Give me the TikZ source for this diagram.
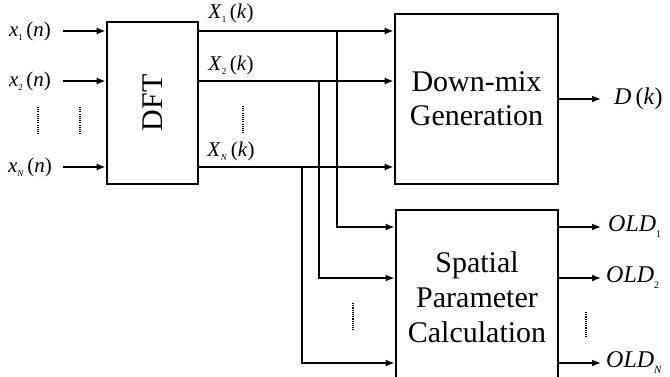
\documentclass[tikz,border=0pt]{standalone}
\usepackage{fontspec}
\setmainfont{Liberation Serif}
\usetikzlibrary{arrows.meta}
\newcommand{\sbs}[3]{\raisebox{-#2}{\fontsize{#1}{#1}\selectfont #3}}
\begin{document}
\begin{tikzpicture}[x=1pt,y=-1pt]
\tikzset{
  blk/.style={draw, line width=2.8pt, inner sep=0pt, align=center, font=\fontsize{30}{34}\selectfont},
  btxt/.style={align=center, inner sep=0pt, font=\fontsize{30}{35}\selectfont},
  conn/.style={line width=1.5pt},
  arr/.style={conn, -{Latex[length=9pt,width=7pt]}},
  vdots/.style={line width=1.4pt, dash pattern=on 1.1pt off 1.1pt},
  lbl/.style={font=\fontsize{21}{24}\selectfont, inner sep=0pt},
  olbl/.style={font=\fontsize{24}{27}\selectfont, inner sep=0pt, anchor=west},
}
\useasboundingbox (0,0) rectangle (670,377);
\clip (0,0) rectangle (670,377);

% blocks
\node[blk, minimum width=91pt, minimum height=162pt] (dft) at (152.5,103) {};
\node[font=\fontsize{30}{34}\selectfont, rotate=90, inner sep=0pt] (dftt) at (dft.center) {DFT};
\node[blk, minimum width=163pt, minimum height=170pt] (dm) at (476.5,99) {Down-mix\\Generation};
\node[blk, minimum width=162pt, minimum height=182pt] (sp) at (477,301) {};
\node[btxt] (spt) at (477,297) {Spatial\\Parameter\\Calculation};

% inputs
\node[lbl] (lx1) at (30,31) {\textit{x}\sbs{9}{4pt}{1}\,(\textit{n})};
\node[lbl] (lx2) at (30,81) {\textit{x}\sbs{9}{4pt}{2}\,(\textit{n})};
\node[lbl] (lxn) at (30,167) {\textit{x}\sbs{9}{4pt}{\textit{N}}\,(\textit{n})};
\coordinate (i1) at (63,31);
\coordinate (i2) at (63,81);
\coordinate (i3) at (63,167);
\draw[arr] (i1) -- (i1 -| dft.west);
\draw[arr] (i2) -- (i2 -| dft.west);
\draw[arr] (i3) -- (i3 -| dft.west);
\coordinate (d1a) at (38,107); \coordinate (d1b) at (38,135);
\coordinate (d2a) at (80,107); \coordinate (d2b) at (80,135);
\draw[vdots] (d1a) -- (d1b);
\draw[vdots] (d2a) -- (d2b);

% DFT outputs
\node[lbl] (lX1) at (231,13) {\textit{X}\sbs{9}{4pt}{1}\,(\textit{k})};
\node[lbl] (lX2) at (231,65) {\textit{X}\sbs{9}{4pt}{2}\,(\textit{k})};
\node[lbl] (lXn) at (231,151) {\textit{X}\sbs{9}{4pt}{\textit{N}}\,(\textit{k})};
\draw[arr] (dft.east |- i1) -- (dm.west |- i1);
\draw[arr] (dft.east |- i2) -- (dm.west |- i2);
\draw[arr] (dft.east |- i3) -- (dm.west |- i3);
\coordinate (d3a) at (243,106); \coordinate (d3b) at (243,133);
\draw[vdots] (d3a) -- (d3b);

% branches to spatial parameter block
\coordinate (j1) at (337,31);
\coordinate (j2) at (319,81);
\coordinate (j3) at (302,167);
\coordinate (r1) at (0,227);
\coordinate (r2) at (0,278);
\coordinate (r3) at (0,363);
\draw[arr] (j1) |- (sp.west |- r1);
\draw[arr] (j2) |- (sp.west |- r2);
\draw[arr] (j3) |- (sp.west |- r3);
\coordinate (d4a) at (353,303); \coordinate (d4b) at (353,330);
\draw[vdots] (d4a) -- (d4b);

% down-mix output
\node[olbl] (dk) at (614,99) {\textit{D}\,(\textit{k})};
\coordinate (e0) at (601,99);
\draw[arr] (dm.east |- e0) -- (e0);

% OLD outputs
\node[olbl] (o1) at (608,227) {\textit{OLD}\sbs{10}{6pt}{1}};
\node[olbl] (o2) at (606,278) {\textit{OLD}\sbs{10}{6pt}{2}};
\node[olbl] (o3) at (606,363) {\textit{OLD}\sbs{11}{6pt}{\textit{N}}};
\coordinate (e1) at (601,227);
\coordinate (e2) at (601,278);
\coordinate (e3) at (601,363);
\draw[arr] (sp.east |- e1) -- (e1);
\draw[arr] (sp.east |- e2) -- (e2);
\draw[arr] (sp.east |- e3) -- (e3);
\coordinate (d5a) at (586,312); \coordinate (d5b) at (586,338);
\draw[vdots] (d5a) -- (d5b);
\end{tikzpicture}
\end{document}
